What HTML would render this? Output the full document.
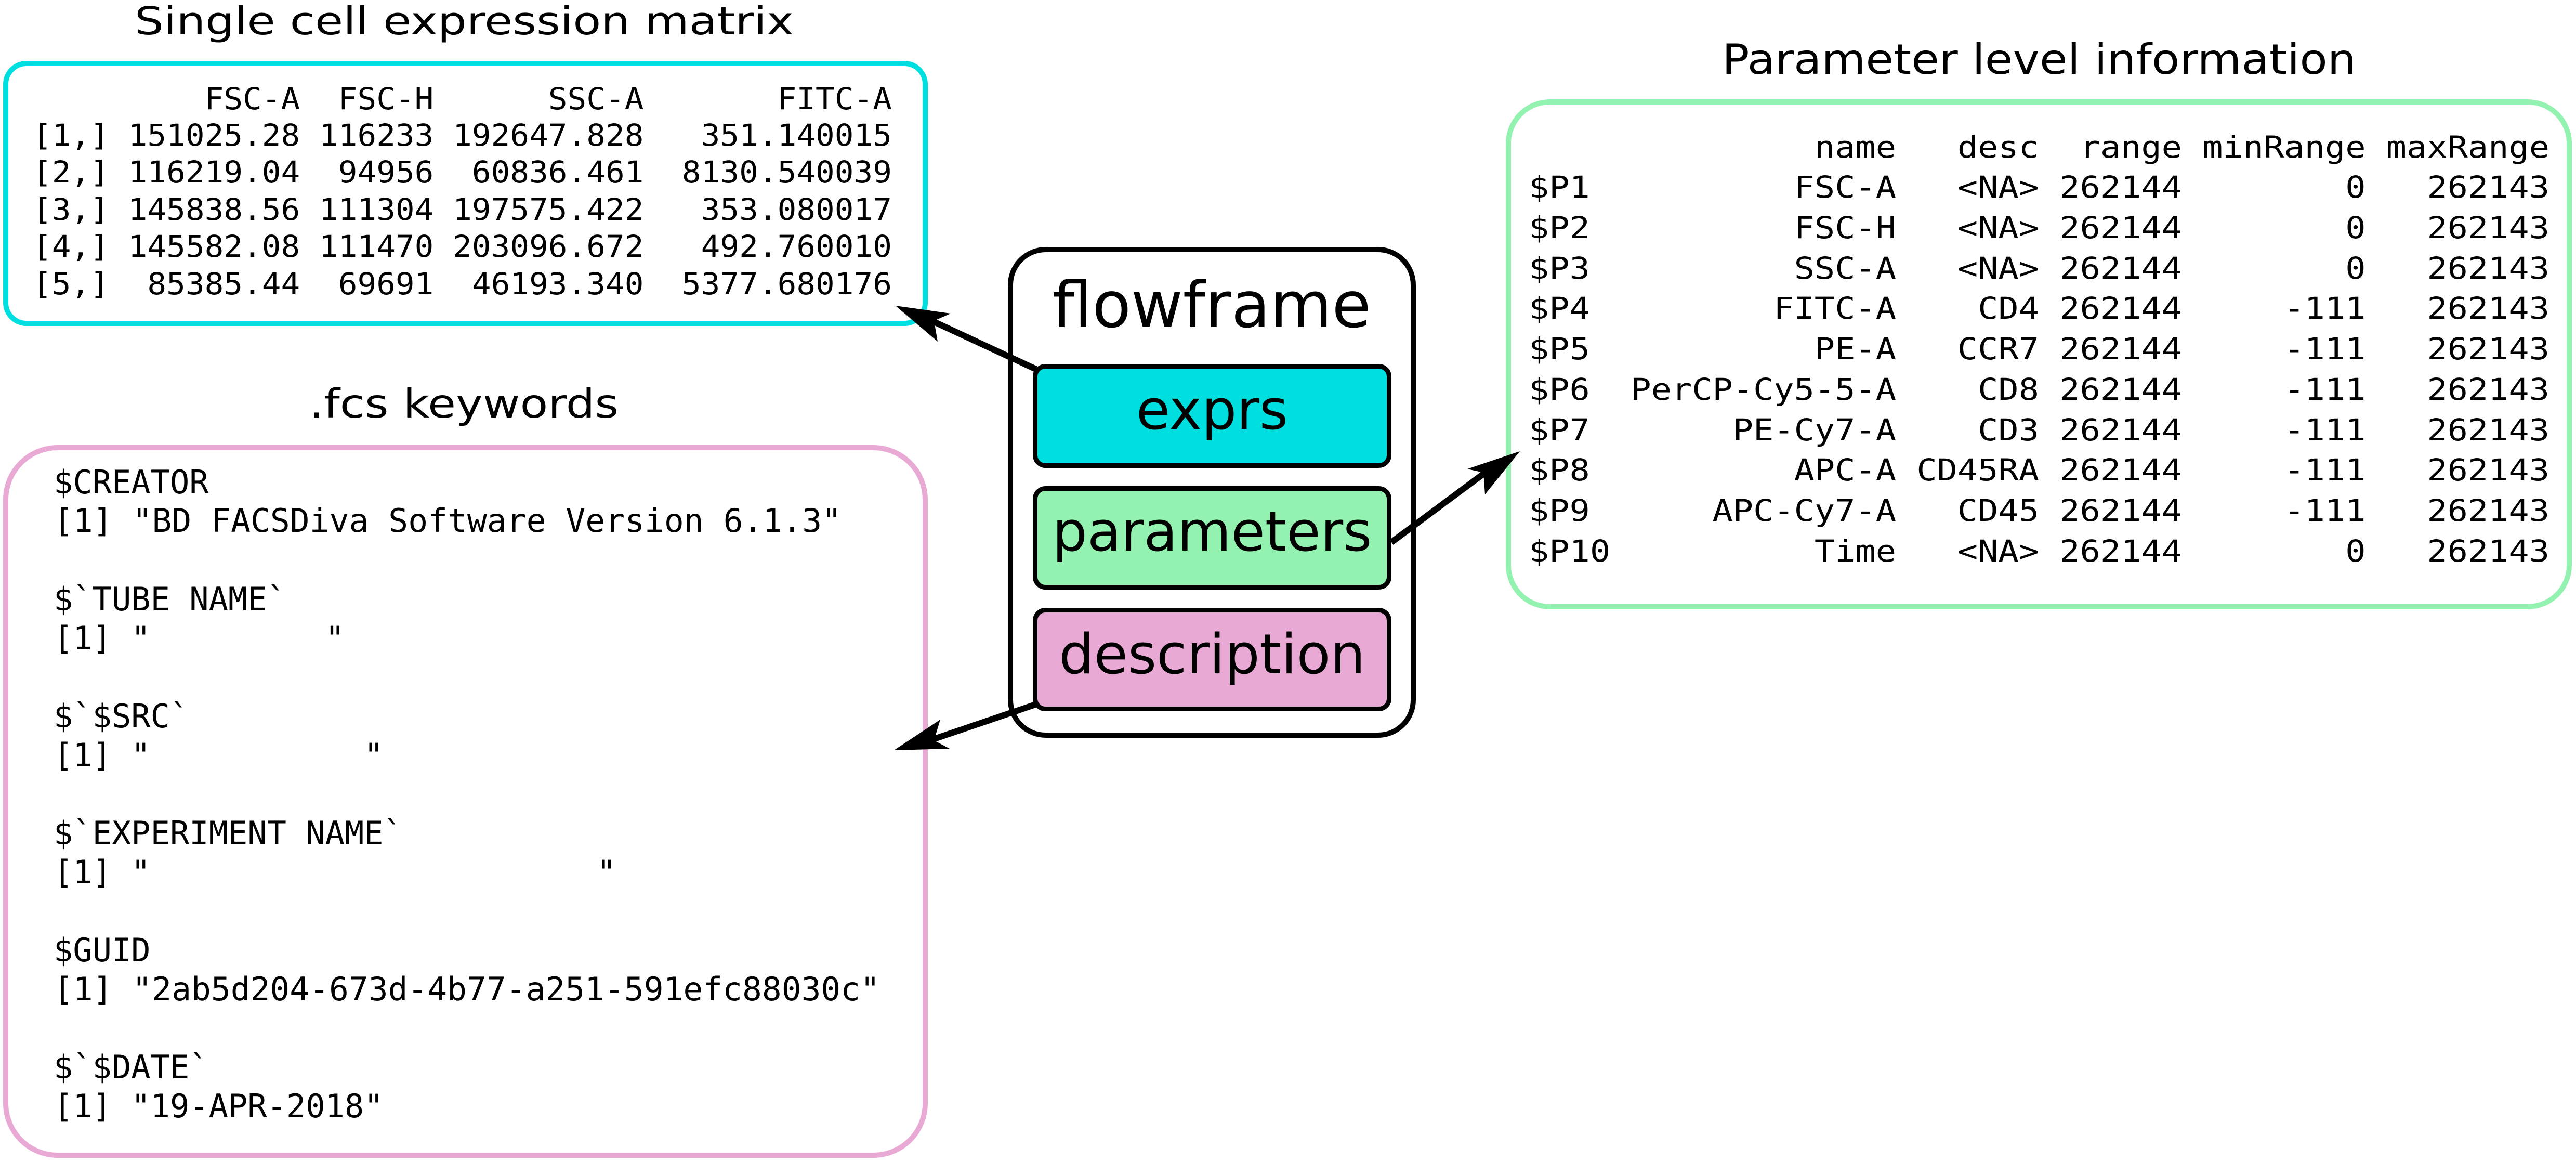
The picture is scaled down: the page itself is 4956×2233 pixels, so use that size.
<!DOCTYPE html>
<html><head><meta charset="utf-8"><style>
html,body{margin:0;padding:0;background:#fff;}
svg{display:block;}
.t{font-family:"DejaVu Sans","Liberation Sans",sans-serif;fill:#000;}
.m{font-family:"DejaVu Sans Mono","Liberation Mono",monospace;font-size:58px;fill:#000;white-space:pre;}
.k{font-size:62px;}
</style></head><body>
<svg width="4956" height="2233" viewBox="0 0 4956 2233" xmlns="http://www.w3.org/2000/svg">
<rect width="4956" height="2233" fill="#fff"/>
<text class="t" x="259" y="66" font-size="74" textLength="1268" lengthAdjust="spacingAndGlyphs">Single cell expression matrix</text>
<text class="t" x="3313" y="142" font-size="80" textLength="1220" lengthAdjust="spacingAndGlyphs">Parameter level information</text>
<text class="t" x="595" y="803" font-size="77" textLength="595" lengthAdjust="spacingAndGlyphs">.fcs keywords</text>

<rect x="11" y="122" width="1769" height="500" rx="40" fill="none" stroke="#00DFDF" stroke-width="10"/>
<g class="m">
<text x="63" y="210" textLength="1653" lengthAdjust="spacingAndGlyphs">&#160;&#160;&#160;&#160;&#160;&#160;&#160;&#160;&#160;FSC-A&#160;&#160;FSC-H&#160;&#160;&#160;&#160;&#160;&#160;SSC-A&#160;&#160;&#160;&#160;&#160;&#160;&#160;FITC-A</text>
<text x="63" y="280" textLength="1653" lengthAdjust="spacingAndGlyphs">[1,]&#160;151025.28&#160;116233&#160;192647.828&#160;&#160;&#160;351.140015</text>
<text x="63" y="351" textLength="1653" lengthAdjust="spacingAndGlyphs">[2,]&#160;116219.04&#160;&#160;94956&#160;&#160;60836.461&#160;&#160;8130.540039</text>
<text x="63" y="423" textLength="1653" lengthAdjust="spacingAndGlyphs">[3,]&#160;145838.56&#160;111304&#160;197575.422&#160;&#160;&#160;353.080017</text>
<text x="63" y="494" textLength="1653" lengthAdjust="spacingAndGlyphs">[4,]&#160;145582.08&#160;111470&#160;203096.672&#160;&#160;&#160;492.760010</text>
<text x="63" y="566" textLength="1653" lengthAdjust="spacingAndGlyphs">[5,]&#160;&#160;85385.44&#160;&#160;69691&#160;&#160;46193.340&#160;&#160;5377.680176</text>
</g>

<rect x="2902" y="196" width="2041" height="971" rx="80" fill="none" stroke="#94F2B0" stroke-width="10"/>
<g class="m">
<text x="2941" y="303" textLength="1964" lengthAdjust="spacingAndGlyphs">&#160;&#160;&#160;&#160;&#160;&#160;&#160;&#160;&#160;&#160;&#160;&#160;&#160;&#160;name&#160;&#160;&#160;desc&#160;&#160;range&#160;minRange&#160;maxRange</text>
<text x="2941" y="380" textLength="1964" lengthAdjust="spacingAndGlyphs">$P1&#160;&#160;&#160;&#160;&#160;&#160;&#160;&#160;&#160;&#160;FSC-A&#160;&#160;&#160;&lt;NA&gt;&#160;262144&#160;&#160;&#160;&#160;&#160;&#160;&#160;&#160;0&#160;&#160;&#160;262143</text>
<text x="2941" y="458" textLength="1964" lengthAdjust="spacingAndGlyphs">$P2&#160;&#160;&#160;&#160;&#160;&#160;&#160;&#160;&#160;&#160;FSC-H&#160;&#160;&#160;&lt;NA&gt;&#160;262144&#160;&#160;&#160;&#160;&#160;&#160;&#160;&#160;0&#160;&#160;&#160;262143</text>
<text x="2941" y="536" textLength="1964" lengthAdjust="spacingAndGlyphs">$P3&#160;&#160;&#160;&#160;&#160;&#160;&#160;&#160;&#160;&#160;SSC-A&#160;&#160;&#160;&lt;NA&gt;&#160;262144&#160;&#160;&#160;&#160;&#160;&#160;&#160;&#160;0&#160;&#160;&#160;262143</text>
<text x="2941" y="613" textLength="1964" lengthAdjust="spacingAndGlyphs">$P4&#160;&#160;&#160;&#160;&#160;&#160;&#160;&#160;&#160;FITC-A&#160;&#160;&#160;&#160;CD4&#160;262144&#160;&#160;&#160;&#160;&#160;-111&#160;&#160;&#160;262143</text>
<text x="2941" y="691" textLength="1964" lengthAdjust="spacingAndGlyphs">$P5&#160;&#160;&#160;&#160;&#160;&#160;&#160;&#160;&#160;&#160;&#160;PE-A&#160;&#160;&#160;CCR7&#160;262144&#160;&#160;&#160;&#160;&#160;-111&#160;&#160;&#160;262143</text>
<text x="2941" y="769" textLength="1964" lengthAdjust="spacingAndGlyphs">$P6&#160;&#160;PerCP-Cy5-5-A&#160;&#160;&#160;&#160;CD8&#160;262144&#160;&#160;&#160;&#160;&#160;-111&#160;&#160;&#160;262143</text>
<text x="2941" y="847" textLength="1964" lengthAdjust="spacingAndGlyphs">$P7&#160;&#160;&#160;&#160;&#160;&#160;&#160;PE-Cy7-A&#160;&#160;&#160;&#160;CD3&#160;262144&#160;&#160;&#160;&#160;&#160;-111&#160;&#160;&#160;262143</text>
<text x="2941" y="924" textLength="1964" lengthAdjust="spacingAndGlyphs">$P8&#160;&#160;&#160;&#160;&#160;&#160;&#160;&#160;&#160;&#160;APC-A&#160;CD45RA&#160;262144&#160;&#160;&#160;&#160;&#160;-111&#160;&#160;&#160;262143</text>
<text x="2941" y="1002" textLength="1964" lengthAdjust="spacingAndGlyphs">$P9&#160;&#160;&#160;&#160;&#160;&#160;APC-Cy7-A&#160;&#160;&#160;CD45&#160;262144&#160;&#160;&#160;&#160;&#160;-111&#160;&#160;&#160;262143</text>
<text x="2941" y="1080" textLength="1964" lengthAdjust="spacingAndGlyphs">$P10&#160;&#160;&#160;&#160;&#160;&#160;&#160;&#160;&#160;&#160;Time&#160;&#160;&#160;&lt;NA&gt;&#160;262144&#160;&#160;&#160;&#160;&#160;&#160;&#160;&#160;0&#160;&#160;&#160;262143</text>
</g>

<rect x="11" y="861" width="1769" height="1361" rx="100" fill="none" stroke="#E8A9D4" stroke-width="10"/>
<g class="m k">
<text x="103" y="949">$CREATOR</text>
<text x="103" y="1023" textLength="1516" lengthAdjust="spacingAndGlyphs">[1]&#160;"BD&#160;FACSDiva&#160;Software&#160;Version&#160;6.1.3"</text>
<text x="103" y="1174">$`TUBE&#160;NAME`</text>
<text x="103" y="1249">[1]&#160;"&#160;&#160;&#160;&#160;&#160;&#160;&#160;&#160;&#160;"</text>
<text x="103" y="1399">$`$SRC`</text>
<text x="103" y="1474">[1]&#160;"&#160;&#160;&#160;&#160;&#160;&#160;&#160;&#160;&#160;&#160;&#160;"</text>
<text x="103" y="1624">$`EXPERIMENT&#160;NAME`</text>
<text x="103" y="1699">[1]&#160;"&#160;&#160;&#160;&#160;&#160;&#160;&#160;&#160;&#160;&#160;&#160;&#160;&#160;&#160;&#160;&#160;&#160;&#160;&#160;&#160;&#160;&#160;&#160;"</text>
<text x="103" y="1849">$GUID</text>
<text x="103" y="1924" textLength="1590" lengthAdjust="spacingAndGlyphs">[1]&#160;"2ab5d204-673d-4b77-a251-591efc88030c"</text>
<text x="103" y="2074">$`$DATE`</text>
<text x="103" y="2149">[1]&#160;"19-APR-2018"</text>
</g>

<rect x="1944" y="480" width="775" height="934" rx="68" fill="#fff" stroke="#000" stroke-width="10"/>
<text class="t" x="2331" y="629" font-size="122" text-anchor="middle">flowframe</text>
<rect x="1991.5" y="704.5" width="681" height="191" rx="20" fill="#00DFDF" stroke="#000" stroke-width="9"/>
<text class="t" x="2332" y="825" font-size="106" text-anchor="middle">exprs</text>
<rect x="1991.5" y="939.5" width="681" height="190" rx="20" fill="#94F2B0" stroke="#000" stroke-width="9"/>
<text class="t" x="2332" y="1059" font-size="106" text-anchor="middle">parameters</text>
<rect x="1991.5" y="1173.5" width="681" height="190" rx="20" fill="#E8A9D4" stroke="#000" stroke-width="9"/>
<text class="t" x="2332" y="1295" font-size="106" text-anchor="middle">description</text>

<g stroke="#000" stroke-width="12" fill="none">
<line x1="1993" y1="710" x2="1795" y2="618"/>
<line x1="2677" y1="1043" x2="2856" y2="910"/>
<line x1="1992" y1="1355" x2="1795" y2="1422"/>
</g>
<g fill="#000">
<polygon points="1723,588 1829,603 1797,617 1804,657"/>
<polygon points="2924,868 2823,902 2854,909 2857,951"/>
<polygon points="1720,1443 1809,1384 1797,1424 1827,1440"/>
</g>
</svg>
</body></html>
